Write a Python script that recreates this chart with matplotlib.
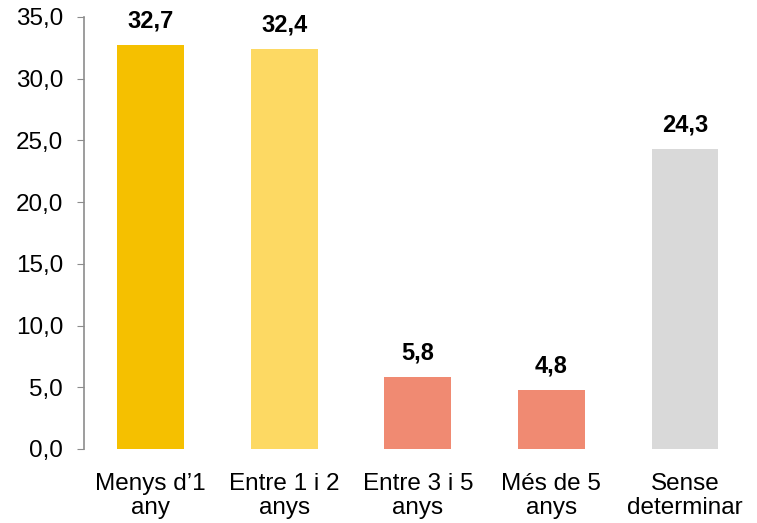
import matplotlib
matplotlib.use("Agg")
import matplotlib.pyplot as plt

categories = ["Menys d\u20191\nany", "Entre 1 i 2\nanys", "Entre 3 i 5\nanys",
              "Més de 5\nanys", "Sense\ndeterminar"]
values = [32.7, 32.4, 5.8, 4.8, 24.3]
colors = ["#F5C000", "#FDD963", "#F08A72", "#F08A72", "#D9D9D9"]
yticks = [0, 5, 10, 15, 20, 25, 30, 35]

plt.rcParams["font.family"] = ["Liberation Sans", "DejaVu Sans"]

fig = plt.figure(figsize=(7.57, 5.23), dpi=100)
ax = fig.add_axes([0.111, 0.1415, 0.882, 0.826])

x = list(range(len(categories)))
bars = ax.bar(x, values, width=0.5, color=colors)
for b, v in zip(bars, values):
    ax.annotate(f"{v:.1f}".replace(".", ","),
                (b.get_x() + b.get_width() / 2, v),
                xytext=(0, 9), textcoords="offset points",
                ha="center", va="bottom", fontsize=17, fontweight="bold")

ax.set_xlim(-0.5, len(categories) - 0.5)
ax.set_ylim(0, 35)
ax.set_yticks(yticks)
ax.set_yticklabels([f"{t:.1f}".replace(".", ",") for t in yticks])
ax.set_xticks(x)
ax.set_xticklabels(categories, linespacing=1.12)
ax.tick_params(axis="x", length=0, pad=17, labelsize=17.5)
ax.tick_params(axis="y", length=5, color="#8c8c8c", labelsize=17.5, pad=10)
for s in ("top", "right", "bottom"):
    ax.spines[s].set_visible(False)
ax.spines["left"].set_color("#8c8c8c")
ax.spines["left"].set_linewidth(1.2)

fig.savefig("out.png", dpi=100)
